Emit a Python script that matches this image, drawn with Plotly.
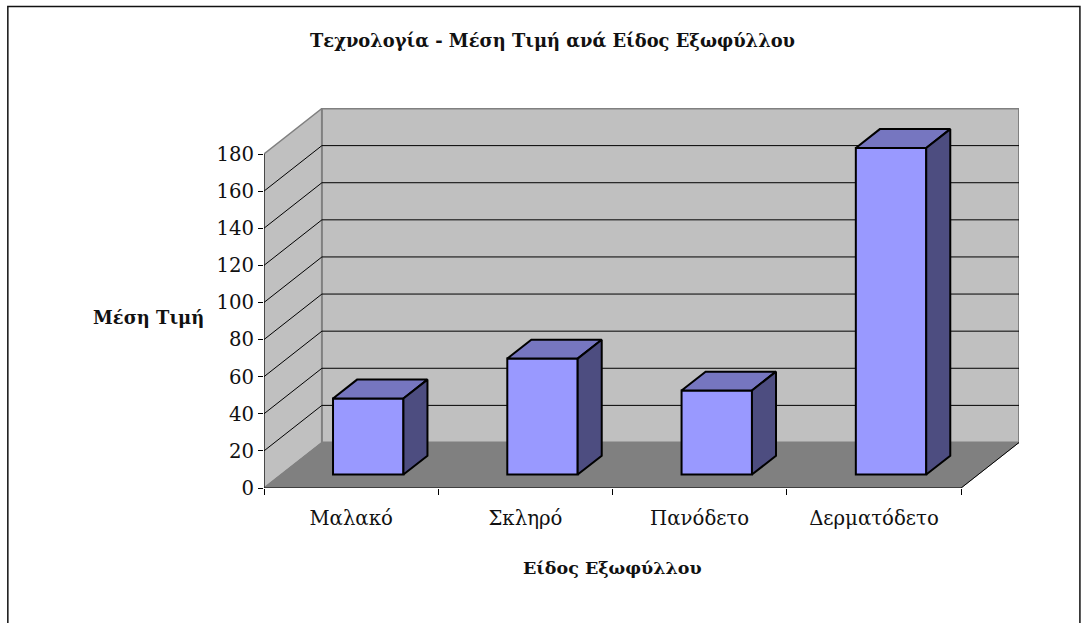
import plotly.graph_objects as go

categories = ["Μαλακό", "Σκληρό", "Πανόδετο", "Δερματόδετο"]
values = [41, 62.5, 45.3, 176]
y_ticks = [0, 20, 40, 60, 80, 100, 120, 140, 160, 180]
title = "Τεχνολογία - Μέση Τιμή ανά Είδος Εξωφύλλου"
x_title = "Είδος Εξωφύλλου"
y_title = "Μέση Τιμή"

W, H = 1088, 623
L, R, T, B = 263.5, 1019.5, 108.0, 488.0
PX_X = 174.5           # pixels per category
PX_Y = 334 / 180       # pixels per value unit
DX = 58 / PX_X         # depth vector in axis units
DY = 45.5 / PX_Y
BAR_W = 70.5 / PX_X
D0, D1 = 0.295, 0.71   # depth span occupied by the bars
FONT = "DejaVu Serif"
YMAX = y_ticks[-1]
N = len(categories)


def path(pts):
    return "M " + " L ".join(f"{x},{y}" for x, y in pts) + " Z"


shapes = [
    # side wall
    dict(type="path", path=path([(0, 0), (DX, DY), (DX, YMAX + DY), (0, YMAX)]),
         fillcolor="#C0C0C0", line=dict(color="#808080", width=1.5)),
    # back wall
    dict(type="path", path=path([(DX, DY), (N + DX, DY), (N + DX, YMAX + DY), (DX, YMAX + DY)]),
         fillcolor="#C0C0C0", line=dict(color="#808080", width=2)),
    # floor
    dict(type="path", path=path([(0, 0), (N, 0), (N + DX, DY), (DX, DY)]),
         fillcolor="#808080", line=dict(color="#808080", width=1)),
]
for v in y_ticks[1:-1]:
    shapes.append(dict(type="line", x0=0, y0=v, x1=DX, y1=v + DY, line=dict(color="black", width=1)))
    shapes.append(dict(type="line", x0=DX, y0=v + DY, x1=N + DX, y1=v + DY, line=dict(color="black", width=1)))
for s in shapes:
    s.update(xref="x", yref="y", layer="below")

# frame of the chart area
shapes.append(dict(type="rect", xref="paper", yref="paper", layer="above",
                   x0=(7.0 - L) / (R - L), x1=(1080.5 - L) / (R - L),
                   y0=(B - 640) / (B - T), y1=(B - 6.5) / (B - T),
                   line=dict(color="#111111", width=1.5)))

fig = go.Figure()

centers = [i + 0.5 + D0 * DX for i in range(N)]
bases = [D0 * DY] * N

fig.add_trace(go.Bar(x=centers, y=values, base=bases, width=BAR_W,
                     marker=dict(color="#9999FF", line=dict(color="black", width=2)),
                     hoverinfo="skip", showlegend=False))

d = (D1 - D0)
for cx, v, b in zip(centers, values, bases):
    x0, x1 = cx - BAR_W / 2, cx + BAR_W / 2
    top = b + v
    # top face
    fig.add_trace(go.Scatter(
        x=[x0, x1, x1 + d * DX, x0 + d * DX, x0],
        y=[top, top, top + d * DY, top + d * DY, top],
        mode="lines", fill="toself", fillcolor="#7676C0",
        line=dict(color="black", width=2), hoverinfo="skip", showlegend=False))
    # side face
    fig.add_trace(go.Scatter(
        x=[x1, x1 + d * DX, x1 + d * DX, x1, x1],
        y=[b, b + d * DY, top + d * DY, top, b],
        mode="lines", fill="toself", fillcolor="#4D4D80",
        line=dict(color="black", width=2), hoverinfo="skip", showlegend=False))

# axis lines stop at the front plane
fig.add_trace(go.Scatter(x=[0, 0], y=[0, YMAX], mode="lines", cliponaxis=False,
                         line=dict(color="black", width=1), hoverinfo="skip", showlegend=False))
fig.add_trace(go.Scatter(x=[0, N], y=[0, 0], mode="lines", cliponaxis=False,
                         line=dict(color="black", width=1), hoverinfo="skip", showlegend=False))
fig.add_trace(go.Scatter(x=[N, N + DX], y=[0, DY], mode="lines", cliponaxis=False,
                         line=dict(color="black", width=1), hoverinfo="skip", showlegend=False))

fig.update_layout(
    width=W, height=H, autosize=False,
    margin=dict(l=L, r=W - R, t=T, b=H - B, pad=0),
    paper_bgcolor="white", plot_bgcolor="white",
    font=dict(family=FONT, color="#111111", size=19.7),
    showlegend=False,
    shapes=shapes,
    title=dict(text=f"<b>{title}</b>", font=dict(family=FONT, size=17.9, color="#111111"),
               x=552.5 / W, xanchor="center", y=1 - 41 / H, yanchor="middle"),
    xaxis=dict(range=[0, (R - L) / PX_X], showgrid=False, zeroline=False, showline=False,
               tickmode="array", tickvals=[i + 0.5 for i in range(N)], ticktext=categories,
               ticks="outside", ticklen=12, tickcolor="rgba(0,0,0,0)", tickfont=dict(size=19.7),
               minor=dict(tickmode="array", tickvals=list(range(N + 1)), ticks="outside",
                          ticklen=6, tickcolor="black", tickwidth=1, showgrid=False)),
    yaxis=dict(range=[0, (B - T) / PX_Y], showgrid=False, zeroline=False, showline=False,
               tickmode="array", tickvals=y_ticks, ticks="outside", ticklen=5,
               tickcolor="black", tickwidth=1, tickfont=dict(size=19.7)),
    annotations=[
        dict(text=f"<b>{y_title}</b>", xref="paper", yref="paper", showarrow=False,
             x=(148 - L) / (R - L), y=(B - 317) / (B - T), xanchor="center", yanchor="middle",
             font=dict(family=FONT, size=17.9, color="#111111")),
        dict(text=f"<b>{x_title}</b>", xref="paper", yref="paper", showarrow=False,
             x=(612.5 - L) / (R - L), y=(B - 568) / (B - T), xanchor="center", yanchor="middle",
             font=dict(family=FONT, size=17.5, color="#111111")),
    ],
)

fig.write_html("out.html", config={"displayModeBar": False},
               post_script="document.body.style.margin='0';document.body.style.overflow='hidden';")
